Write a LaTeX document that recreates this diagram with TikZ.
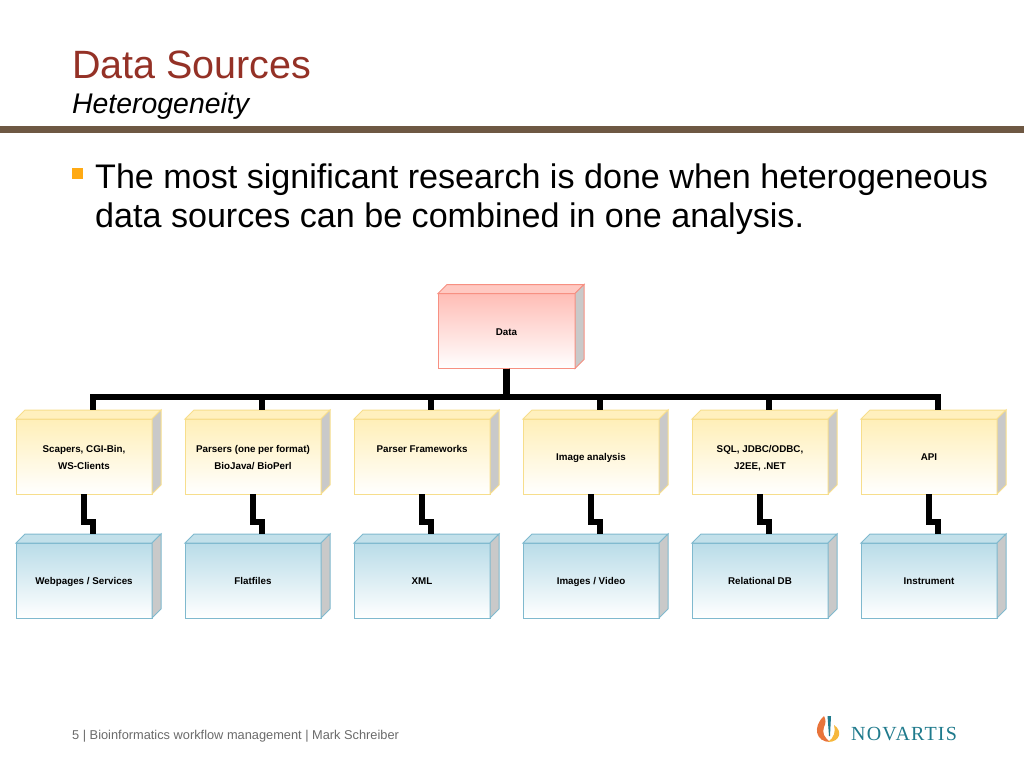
\documentclass[tikz,border=0pt]{standalone}
\usepackage{fontspec}
\usetikzlibrary{calc}
\setmainfont{Liberation Sans}
\newfontfamily\logofont[LetterSpace=6]{Liberation Serif}
\definecolor{titlered}{HTML}{943126}
\definecolor{rulebrown}{HTML}{6E5843}
\definecolor{bulletorange}{HTML}{FFAA14}
\definecolor{footgray}{HTML}{6A6A6A}
\definecolor{logoteal}{HTML}{1F7A8C}
\definecolor{logored}{HTML}{E8743B}
\definecolor{logoyellow}{HTML}{F6B73C}
\definecolor{sidegray}{HTML}{C9C9C9}
\definecolor{dataline}{HTML}{F79082}
\definecolor{datatop}{HTML}{FFBDB6}
\definecolor{dataface}{HTML}{FFC9C2}
\definecolor{toolline}{HTML}{F7DE8C}
\definecolor{tooltop}{HTML}{FFEFB8}
\definecolor{toolface}{HTML}{FFF0BE}
\definecolor{storeline}{HTML}{7FB9CE}
\definecolor{storetop}{HTML}{B9DCE8}
\definecolor{storeface}{HTML}{C2E0EA}
\tikzset{
    cube/.style = {rectangle, draw = #1, line width = 1pt, inner sep = 0pt, outer sep = 0pt,
        minimum width = 136pt, minimum height = 75pt, align = center,
        font = \fontsize{9.8}{17}\selectfont\bfseries},
    data box/.style = {cube = dataline, top color = datatop, bottom color = white, minimum width = 137pt},
    tool box/.style = {cube = toolline, top color = tooltop, bottom color = white},
    store box/.style = {cube = storeline, top color = storetop, bottom color = white},
    link/.style = {draw = black, line width = 6.7pt, line join = miter}
}
% keeps the labels of a row on one baseline
\newcommand{\labelbox}[1]{\rule{0pt}{10pt}#1\rule[-2pt]{0pt}{2pt}}
% top and right faces, drawn next to the front of a box
\newcommand{\boxfaces}[3]{
    \draw[draw = #2, fill = #3, line width = 1pt] (#1.north west) -- ++(9,-9) -- ($(#1.north east) + (9,-9)$) -- (#1.north east) -- cycle;
    \draw[draw = #2, fill = sidegray, line width = 1pt] (#1.north east) -- ++(9,-9) -- ($(#1.south east) + (9,-9)$) -- (#1.south east) -- cycle;
}

\begin{document}
\begin{tikzpicture}[x = 1pt, y = -1pt]
    \useasboundingbox (0,0) rectangle (1024,768);

    % heading
    \node[anchor = base west, inner sep = 0pt, text = titlered, font = \fontsize{39.5}{39.5}\selectfont] (title) at (72,78) {Data Sources};
    \node[anchor = base west, inner sep = 0pt, font = \fontsize{28.4}{28.4}\selectfont\itshape] (sub) at (72,113) {Heterogeneity};
    \fill[rulebrown] (0,126) rectangle (1024,133);

    % bullet
    \fill[bulletorange] (72,168) rectangle (83,179);
    \node[anchor = base west, inner sep = 0pt, font = \fontsize{34.1}{39}\selectfont] (line1) at (95,188) {The most significant research is done when heterogeneous};
    \node[anchor = base west, inner sep = 0pt, font = \fontsize{34.1}{39}\selectfont] (line2) at (95,227) {data sources can be combined in one analysis.};

    % root
    \node[data box] (data) at (506.5,331) {\labelbox{Data}};
    \boxfaces{data}{dataline}{dataface}

    % two rows
    \foreach \i/\x/\tooltext/\storetext in {
        1/84/{Scapers, CGI-Bin,\\WS-Clients}/{Webpages / Services},
        2/253/{Parsers (one per format)\\BioJava/ BioPerl}/Flatfiles,
        3/422/{Parser Frameworks\\{}}/XML,
        4/591/Image analysis/{Images / Video},
        5/760/{SQL, JDBC/ODBC,\\J2EE, .NET}/Relational DB,
        6/929/API/Instrument}{
        \node[tool box] (tool\i) at (\x,456.5) {\labelbox{\tooltext}};
        \boxfaces{tool\i}{toolline}{toolface}
        \coordinate (tooltop\i) at ($(tool\i.north) + (9,-9)$);
        \node[store box] (store\i) at (\x,580.5) {\labelbox{\storetext}};
        \boxfaces{store\i}{storeline}{storeface}
        \coordinate (storetop\i) at ($(store\i.north) + (9,-9)$);
        \draw[link] (data.south) -- ++(0,28.5) -| (tooltop\i);
        \draw[link] (tool\i.south) -- ++(0,28) -| (storetop\i);
    }

    % footer
    \node[anchor = base west, inner sep = 0pt, text = footgray, font = \fontsize{12.8}{12.8}\selectfont] (foot) at (72,739) {5 | Bioinformatics workflow management | Mark Schreiber};

    % logo
    \fill[logored] (824,716) .. controls (812,727) and (816,742) .. (830,742) .. controls (824,737) and (822,733) .. (824,727) .. controls (826,723) and (826,720) .. (824,716) -- cycle;
    \fill[logoyellow] (834,725) .. controls (843,731) and (840,742) .. (828,742) .. controls (834,738) and (836,731) .. (834,725) -- cycle;
    \fill[logoteal] (827.5,716) -- (831,716) -- (830,736) -- (829,736) -- cycle;
    \node[anchor = base west, inner sep = 0pt, text = logoteal, font = \fontsize{20}{20}\logofont] (logo) at (851,740) {NOVARTIS};
\end{tikzpicture}
\end{document}
